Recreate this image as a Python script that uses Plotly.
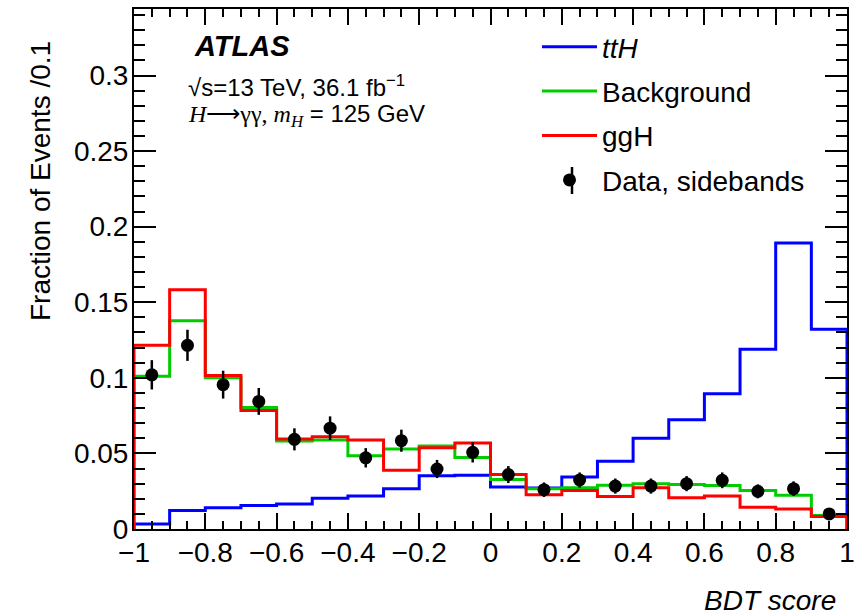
import plotly.graph_objects as go

# ---------------- data ----------------
bin_edges = [-1.0, -0.9, -0.8, -0.7, -0.6, -0.5, -0.4, -0.3, -0.2, -0.1, 0.0,
             0.1, 0.2, 0.3, 0.4, 0.5, 0.6, 0.7, 0.8, 0.9, 1.0]
tth = [0.0033, 0.0122, 0.0140, 0.0155, 0.0166, 0.0204, 0.0218, 0.0267, 0.0353, 0.0355,
       0.0278, 0.0271, 0.0344, 0.0449, 0.0600, 0.0722, 0.0895, 0.1189, 0.1892, 0.1322]
background = [0.1011, 0.1378, 0.1000, 0.0804, 0.0582, 0.0589, 0.0484, 0.0529, 0.0549, 0.0473,
              0.0327, 0.0267, 0.0273, 0.0289, 0.0300, 0.0295, 0.0287, 0.0255, 0.0224, 0.0089]
ggh = [0.1215, 0.1582, 0.1015, 0.0784, 0.0595, 0.0611, 0.0589, 0.0389, 0.0538, 0.0569,
       0.0360, 0.0227, 0.0255, 0.0215, 0.0273, 0.0207, 0.0218, 0.0144, 0.0133, 0.0082]
data_vals = [0.1020, 0.1215, 0.0955, 0.0844, 0.0593, 0.0667, 0.0471, 0.0584, 0.0397, 0.0507,
             0.0360, 0.0260, 0.0324, 0.0284, 0.0284, 0.0300, 0.0322, 0.0249, 0.0267, 0.0100]
data_errs = [0.0097, 0.0103, 0.0092, 0.0089, 0.0073, 0.0078, 0.0064, 0.0073, 0.0060, 0.0067,
             0.0056, 0.0048, 0.0050, 0.0050, 0.0050, 0.0050, 0.0052, 0.0046, 0.0048, 0.0030]
x_ticks = [-1, -0.8, -0.6, -0.4, -0.2, 0, 0.2, 0.4, 0.6, 0.8, 1]
y_ticks = [0, 0.05, 0.1, 0.15, 0.2, 0.25, 0.3]

FONT = "Liberation Sans, Arial, Helvetica, sans-serif"
SERIF = "Liberation Serif, Times New Roman, serif"

W, H = 854, 616
L, R, T, B = 134, 847, 9, 529  # plot area in pixels


def step_xy(vals):
    xs = [bin_edges[0]] + bin_edges[:-1] + [bin_edges[-1], bin_edges[-1]]
    ys = [0] + list(vals) + [vals[-1], 0]
    return xs, ys


def px(xp):
    return (xp - L) / (R - L)


def py(yp):
    return (B - yp) / (B - T)


centers = [(bin_edges[i] + bin_edges[i + 1]) / 2 for i in range(len(bin_edges) - 1)]

fig = go.Figure()
series = [("<i>ttH</i>", tth, "#0000ff"),
          ("Background", background, "#00cc00"),
          ("ggH", ggh, "#ff0000")]
for i, (name, vals, col) in enumerate(series):
    xs, ys = step_xy(vals)
    fig.add_trace(go.Scatter(x=xs, y=ys, mode="lines", name=name,
                             line=dict(color=col, width=3, shape="hv"),
                             legendgroup=f"g{i}"))

fig.add_trace(go.Scatter(x=centers, y=data_vals, mode="markers", name="Data, sidebands",
                         marker=dict(color="black", size=13, symbol="circle"),
                         error_y=dict(type="data", array=data_errs, color="black",
                                      thickness=2.5, width=0),
                         legendgroup="g3"))

axis_common = dict(showline=True, linecolor="black", linewidth=2, mirror="ticks",
                   ticks="inside", tickcolor="black", tickwidth=1.5,
                   showgrid=False, zeroline=False, automargin=False,
                   ticklabeloverflow="allow",
                   tickfont=dict(family=FONT, size=28, color="black"))

fig.update_xaxes(range=[-1, 1], tickvals=x_ticks, ticklen=16,
                 minor=dict(dtick=0.05, tick0=0, ticklen=8, ticks="inside",
                            tickcolor="black", tickwidth=1.5, showgrid=False),
                 ticklabelstandoff=-3, **axis_common)
fig.update_yaxes(range=[0, 0.344], tickvals=y_ticks, ticklen=22,
                 minor=dict(dtick=0.01, tick0=0, ticklen=11, ticks="inside",
                            tickcolor="black", tickwidth=1.5, showgrid=False),
                 ticklabelstandoff=-2, **axis_common)

annotations = [
    dict(text="<b><i>ATLAS</i></b>", x=px(192), y=py(46), xanchor="left", yanchor="middle",
         font=dict(family=FONT, size=29, color="black")),
    dict(text="√s=13 TeV, 36.1 fb<sup>−1</sup>", x=px(186), y=py(86), xanchor="left",
         yanchor="middle", font=dict(family=FONT, size=24, color="black")),
    dict(text=(f"<span style='font-family:{SERIF}'><i>H</i>⟶γγ, <i>m</i></span>"
               f"<sub><span style='font-family:{SERIF}'><i>H</i></span></sub> = 125 GeV"),
         x=px(186), y=py(115), xanchor="left", yanchor="middle",
         font=dict(family=FONT, size=24, color="black")),
    dict(text="Fraction of Events /0.1", textangle=-90, x=px(40), y=py(181),
         xanchor="center", yanchor="middle", font=dict(family=FONT, size=28, color="black")),
    dict(text="<i>BDT score</i>", x=px(838), y=py(600), xanchor="right", yanchor="middle",
         font=dict(family=FONT, size=28, color="black")),
]
for a in annotations:
    a.update(xref="paper", yref="paper", showarrow=False)

# vertical error-bar stroke for the data entry in the legend
shapes = [dict(type="line", xref="paper", yref="paper", x0=px(572), x1=px(572),
               y0=py(167), y1=py(194), line=dict(color="black", width=2.5), layer="above")]

fig.update_layout(
    width=W, height=H,
    margin=dict(l=L, r=W - R, t=T, b=H - B, pad=0, autoexpand=False),
    paper_bgcolor="white", plot_bgcolor="white",
    annotations=annotations,
    shapes=shapes,
    showlegend=True,
    legend=dict(x=px(537), y=py(22), xanchor="left", yanchor="top",
                font=dict(family=FONT, size=28, color="black"),
                bgcolor="rgba(0,0,0,0)", borderwidth=0, itemwidth=55,
                tracegroupgap=5, traceorder="grouped"),
)

fig.write_html("out.html")
